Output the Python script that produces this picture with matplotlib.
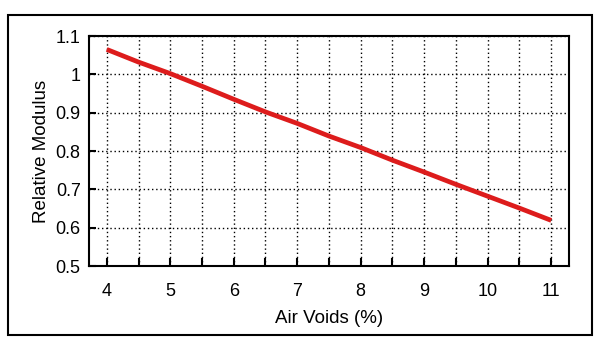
import matplotlib.pyplot as plt
from matplotlib.patches import Rectangle

plt.rcParams['font.family'] = ['Liberation Sans', 'DejaVu Sans']

# data
air_voids = [4, 4.5, 5, 5.5, 6, 6.5, 7, 7.5, 8, 8.5, 9, 9.5, 10, 10.5, 11]
rel_modulus = [1.065, 1.032, 1.002, 0.969, 0.935, 0.902, 0.872, 0.839,
               0.809, 0.776, 0.745, 0.713, 0.682, 0.651, 0.619]
x_ticks = [4, 5, 6, 7, 8, 9, 10, 11]
x_minor = [4.5, 5.5, 6.5, 7.5, 8.5, 9.5, 10.5]
y_ticks = [0.5, 0.6, 0.7, 0.8, 0.9, 1.0, 1.1]
y_labels = ['0.5', '0.6', '0.7', '0.8', '0.9', '1', '1.1']

fig = plt.figure(figsize=(6.02, 3.39), dpi=100)
ax = fig.add_axes([0.1478, 0.2153, 0.7974, 0.6785])

# outer frame round the whole picture
fig.patches.append(Rectangle((0.0133, 0.0118), 0.970, 0.944, transform=fig.transFigure,
                             fill=False, edgecolor='black', linewidth=1.5))

ax.plot(air_voids, rel_modulus, color='#dd1c1c', lw=3.4, solid_capstyle='butt')

ax.set_xlim(3.72, 11.28)
ax.set_ylim(0.5, 1.1)
ax.set_xticks(x_ticks)
ax.set_xticks(x_minor, minor=True)
ax.set_yticks(y_ticks)
ax.set_yticklabels(y_labels)

ax.grid(True, which='both', axis='x', color='black', linestyle=(0, (1, 2)), lw=1)
ax.grid(True, which='major', axis='y', color='black', linestyle=(0, (1, 2)), lw=1)

ax.tick_params(axis='x', which='both', direction='in', length=6, width=1.5,
               labelsize=13, pad=12.5)
ax.tick_params(axis='y', direction='in', length=5, width=1.5, labelsize=13, pad=6)
for s in ax.spines.values():
    s.set_linewidth(1.5)

ax.set_xlabel("Air Voids (%)", fontsize=13.5, labelpad=7)
ax.set_ylabel("Relative Modulus", fontsize=13.5, labelpad=4)

fig.savefig("out.png", dpi=100)
